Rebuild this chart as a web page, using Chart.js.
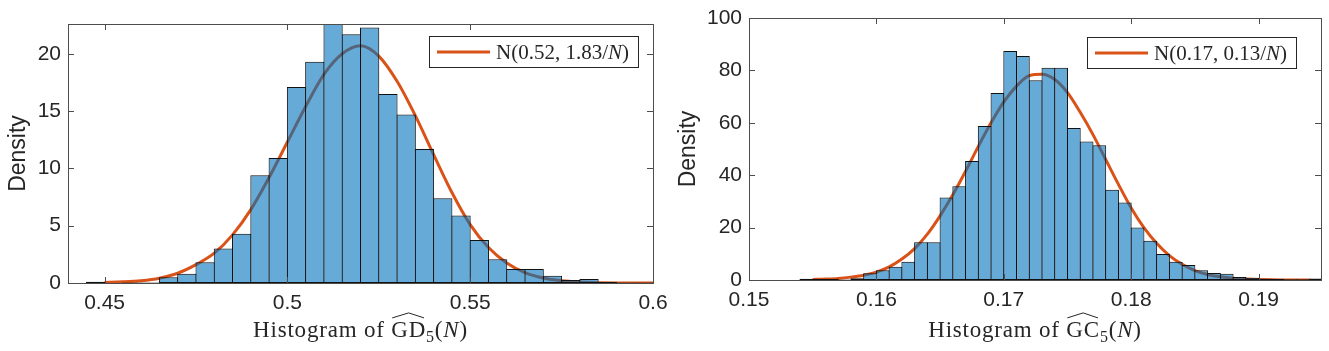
<!DOCTYPE html>
<html>
<head>
<meta charset="utf-8">
<title>Histograms with normal fits</title>
<script src="https://cdn.jsdelivr.net/npm/chart.js@4.4.0/dist/chart.umd.min.js"></script>
<style>
  html, body { margin: 0; padding: 0; background: #fff; }
  #wrap { position: relative; width: 1329px; height: 351px; }
  canvas { position: absolute; top: 0; }
</style>
</head>
<body>
<div id="wrap">
  <canvas id="gdChart" width="700" height="351" style="left:0"></canvas>
  <canvas id="gcChart" width="664" height="351" style="left:665px"></canvas>
</div>
<script>
// ---- left panel: GD_5 ----
const gdBins = [0.4475, 0.4525, 0.4575, 0.4625, 0.4675, 0.4725, 0.4775, 0.4825, 0.4875, 0.4925,
  0.4975, 0.5025, 0.5075, 0.5125, 0.5175, 0.5225, 0.5275, 0.5325, 0.5375, 0.5425,
  0.5475, 0.5525, 0.5575, 0.5625, 0.5675, 0.5725, 0.5775, 0.5825, 0.5875, 0.5925, 0.5975];
const gdDensity = [0.1, 0, 0.05, 0.05, 0.5, 0.8, 1.8, 3.0, 4.3, 9.4,
  10.9, 17.1, 19.3, 22.6, 21.7, 22.3, 16.5, 14.7, 11.7, 7.4,
  5.9, 3.76, 2.07, 1.22, 1.22, 0.64, 0.26, 0.35, 0.08, 0.05, 0.05];
const gdFitX = [0.45, 0.455, 0.46, 0.465, 0.47, 0.475, 0.48, 0.485, 0.49, 0.495, 0.5,
  0.505, 0.51, 0.515, 0.52, 0.525, 0.53, 0.535, 0.54, 0.545, 0.55,
  0.555, 0.56, 0.565, 0.57, 0.575, 0.58, 0.585, 0.59, 0.595, 0.6];
const gdFitY = [0.05, 0.1, 0.2, 0.42, 0.85, 1.6, 2.6, 4.2, 6.4, 9.2, 12.3,
  15.4, 18.2, 20.0, 20.7, 19.8, 17.6, 14.6, 11.2, 7.9, 5.1,
  3.1, 1.75, 0.9, 0.43, 0.19, 0.08, 0.03, 0.01, 0.005, 0];
const gdXTicks = [0.45, 0.5, 0.55, 0.6];
const gdYTicks = [0, 5, 10, 15, 20];
const gdFitLabel = ['N(0.52, 1.83/', 'N', ')'];

// ---- right panel: GC_5 ----
const gcBins = [0.1545, 0.1555, 0.1565, 0.1575, 0.1585, 0.1595, 0.1605, 0.1615, 0.1625, 0.1635,
  0.1645, 0.1655, 0.1665, 0.1675, 0.1685, 0.1695, 0.1705, 0.1715, 0.1725, 0.1735,
  0.1745, 0.1755, 0.1765, 0.1775, 0.1785, 0.1795, 0.1805, 0.1815, 0.1825, 0.1835,
  0.1845, 0.1855, 0.1865, 0.1875, 0.1885, 0.1895, 0.1905, 0.1915, 0.1925, 0.1935, 0.1945];
const gcDensity = [0.5, 0.4, 0.4, 0.2, 0.7, 2.6, 3.7, 5.1, 7.0, 14.4,
  14.4, 31.5, 35.8, 45.4, 58.8, 71.4, 87.4, 85.5, 76.2, 81.0,
  81.0, 58.0, 52.9, 51.4, 34.4, 29.6, 20.0, 15.0, 9.9, 7.0,
  5.7, 3.7, 2.7, 2.4, 1.1, 0.9, 0.5, 0.4, 0.3, 0.3, 0.6];
const gcFitX = [0.155, 0.156, 0.157, 0.158, 0.159, 0.16, 0.161, 0.162, 0.163, 0.164,
  0.165, 0.166, 0.167, 0.168, 0.169, 0.17, 0.171, 0.172, 0.173, 0.174,
  0.175, 0.176, 0.177, 0.178, 0.179, 0.18, 0.181, 0.182, 0.183, 0.184,
  0.185, 0.186, 0.187, 0.188, 0.189, 0.19, 0.191, 0.192, 0.193, 0.194];
const gcFitY = [0.2, 0.35, 0.6, 1.1, 1.8, 3.0, 5.0, 8.0, 12.0, 17.5,
  24.5, 32.5, 41.5, 51, 60, 68, 74, 78, 78.5, 76.5,
  71.5, 64, 55.5, 46, 36.5, 27.5, 20, 14, 9.3, 6.0,
  3.6, 2.1, 1.2, 0.65, 0.34, 0.17, 0.08, 0.04, 0.02, 0.01];
const gcXTicks = [0.15, 0.16, 0.17, 0.18, 0.19];
const gcYTicks = [0, 20, 40, 60, 80, 100];
const gcFitLabel = ['N(0.17, 0.13/', 'N', ')'];

const textColor = '#262626';
const frameColor = '#4d4d4d';
const barFill = 'rgba(0, 114, 189, 0.6)';
const fitColor = '#D95319';
const sansFont = '"Liberation Sans", Arial, Helvetica, sans-serif';
const serifFont = '"Liberation Serif", "Times New Roman", serif';

// box around the axes with MATLAB-style inward ticks on all four sides
const boxTicks = {
  id: 'boxTicks',
  afterDraw(chart) {
    const { ctx, chartArea: a, scales } = chart;
    const len = 6;
    ctx.save();
    ctx.strokeStyle = frameColor;
    ctx.lineWidth = 1;
    ctx.beginPath();
    scales.x.ticks.forEach(t => {
      const x = Math.round(scales.x.getPixelForValue(t.value)) + 0.5;
      ctx.moveTo(x, a.bottom); ctx.lineTo(x, a.bottom - len);
      ctx.moveTo(x, a.top); ctx.lineTo(x, a.top + len);
    });
    scales.y.ticks.forEach(t => {
      const y = Math.round(scales.y.getPixelForValue(t.value)) + 0.5;
      ctx.moveTo(a.left, y); ctx.lineTo(a.left + len, y);
      ctx.moveTo(a.right, y); ctx.lineTo(a.right - len, y);
    });
    ctx.stroke();
    ctx.strokeRect(Math.round(a.left) + 0.5, Math.round(a.top) + 0.5,
      Math.round(a.right - a.left), Math.round(a.bottom - a.top));
    ctx.restore();
  }
};

// x label: "Histogram of" + hatted abbreviation with subscript 5, then (N)
const hatTitle = {
  id: 'hatTitle',
  afterDraw(chart, args, o) {
    const { ctx, chartArea: a } = chart;
    const s = o.size;
    const parts = [
      { t: 'Histogram of ', f: `${s}px ${serifFont}` },
      { t: o.abbr, f: `${s}px ${serifFont}`, hat: true },
      { t: '5', f: `${Math.round(s * 0.7)}px ${serifFont}`, dy: Math.round(s * 0.2) },
      { t: '(', f: `${s}px ${serifFont}` },
      { t: 'N', f: `italic ${s}px ${serifFont}` },
      { t: ')', f: `${s}px ${serifFont}` }
    ];
    ctx.save();
    ctx.fillStyle = textColor;
    ctx.textAlign = 'left';
    ctx.textBaseline = 'alphabetic';
    if ('letterSpacing' in ctx) ctx.letterSpacing = o.spacing + 'px';
    let total = 0;
    parts.forEach(p => { ctx.font = p.f; p.w = ctx.measureText(p.t).width; total += p.w; });
    let x = (a.left + a.right) / 2 - total / 2;
    parts.forEach(p => {
      ctx.font = p.f;
      ctx.fillText(p.t, x, o.baseline + (p.dy || 0));
      if (p.hat) {
        const base = o.baseline - s * 0.7 - 3;
        ctx.strokeStyle = textColor;
        ctx.lineWidth = 1;
        ctx.beginPath();
        ctx.moveTo(x + 1, base);
        ctx.lineTo(x + p.w / 2, base - 5);
        ctx.lineTo(x + p.w - 2, base);
        ctx.stroke();
      }
      x += p.w;
    });
    ctx.restore();
  }
};

// boxed legend for the fitted normal curve
const fitLegend = {
  id: 'fitLegend',
  afterDraw(chart, args, o) {
    const { ctx, chartArea: a } = chart;
    const w = 209, h = 31;
    const x0 = Math.round(a.right - o.right - w), y0 = Math.round(a.top + o.top);
    ctx.save();
    ctx.fillStyle = '#fff';
    ctx.fillRect(x0, y0, w, h);
    ctx.strokeStyle = textColor;
    ctx.lineWidth = 1;
    ctx.strokeRect(x0 + 0.5, y0 + 0.5, w, h);
    ctx.strokeStyle = fitColor;
    ctx.lineWidth = 3;
    ctx.beginPath();
    ctx.moveTo(x0 + 8, y0 + h / 2 + 0.5);
    ctx.lineTo(x0 + 61, y0 + h / 2 + 0.5);
    ctx.stroke();
    ctx.fillStyle = textColor;
    ctx.textBaseline = 'alphabetic';
    let x = x0 + 67;
    o.label.forEach((t, i) => {
      ctx.font = (i === 1 ? 'italic ' : '') + `${o.size}px ${serifFont}`;
      ctx.fillText(t, x, y0 + h / 2 + 7);
      x += ctx.measureText(t).width;
    });
    ctx.restore();
  }
};

function makeHistogram(id, cfg) {
  const ctx = document.getElementById(id).getContext('2d');
  return new Chart(ctx, {
    type: 'bar',
    data: {
      datasets: [
        {
          type: 'bar',
          data: cfg.bins.map((b, i) => ({ x: b, y: cfg.density[i] })),
          backgroundColor: barFill,
          borderColor: '#111',
          borderWidth: 1,
          borderSkipped: false,
          barPercentage: cfg.barPct,
          categoryPercentage: 1,
          order: 0
        },
        {
          type: 'line',
          data: cfg.fitX.map((v, i) => ({ x: v, y: cfg.fitY[i] })),
          borderColor: fitColor,
          borderWidth: 3,
          pointRadius: 0,
          cubicInterpolationMode: 'monotone',
          fill: false,
          order: 1
        }
      ]
    },
    options: {
      responsive: false,
      animation: false,
      layout: { padding: { top: cfg.padTop, right: cfg.padRight, left: 0, bottom: 0 } },
      plugins: {
        legend: { display: false },
        tooltip: { enabled: false },
        hatTitle: { abbr: cfg.abbr, size: 23, spacing: 0.8, baseline: 337 },
        fitLegend: { label: cfg.label, size: 21, right: cfg.legRight, top: cfg.legTop }
      },
      scales: {
        x: {
          type: 'linear',
          min: cfg.xMin,
          max: cfg.xMax,
          offset: false,
          grid: { display: false, drawTicks: false, offset: false },
          border: { display: false },
          afterBuildTicks: s => { s.ticks = cfg.xTicks.map(v => ({ value: v })); },
          afterFit: s => { s.height = cfg.xAxisH; s.paddingLeft = 0; s.paddingRight = 0; },
          ticks: {
            padding: 8, color: textColor, maxRotation: 0, autoSkip: false,
            font: { family: sansFont, size: cfg.tickSize },
            callback: v => String(v)
          }
        },
        y: {
          min: 0,
          max: cfg.yMax,
          grid: { display: false, drawTicks: false },
          border: { display: false },
          afterBuildTicks: s => { s.ticks = cfg.yTicks.map(v => ({ value: v })); },
          afterFit: s => { s.width = cfg.yAxisW; s.paddingTop = 0; s.paddingBottom = 0; },
          ticks: {
            padding: 7, color: textColor,
            font: { family: sansFont, size: cfg.tickSize },
            callback: v => String(v)
          },
          title: {
            display: true, text: 'Density', color: textColor,
            font: { family: sansFont, size: 23 },
            padding: { top: cfg.titlePad, bottom: 0 }
          }
        }
      }
    },
    plugins: [boxTicks, hatTitle, fitLegend]
  });
}

makeHistogram('gdChart', {
  bins: gdBins, density: gdDensity, fitX: gdFitX, fitY: gdFitY,
  xTicks: gdXTicks, yTicks: gdYTicks, label: gdFitLabel, abbr: 'GD',
  xMin: 0.44, xMax: 0.6, yMax: 22.6, barPct: 1.055,
  padTop: 24, padRight: 47, xAxisH: 68, yAxisW: 68, titlePad: 5,
  tickSize: 21, legRight: 15, legTop: 12
});

makeHistogram('gcChart', {
  bins: gcBins, density: gcDensity, fitX: gcFitX, fitY: gcFitY,
  xTicks: gcXTicks, yTicks: gcYTicks, label: gcFitLabel, abbr: 'GC',
  xMin: 0.15, xMax: 0.1949, yMax: 100, barPct: 1.078,
  padTop: 18, padRight: 8, xAxisH: 71, yAxisW: 84, titlePad: 10,
  tickSize: 21, legRight: 25, legTop: 19
});
</script>
</body>
</html>
